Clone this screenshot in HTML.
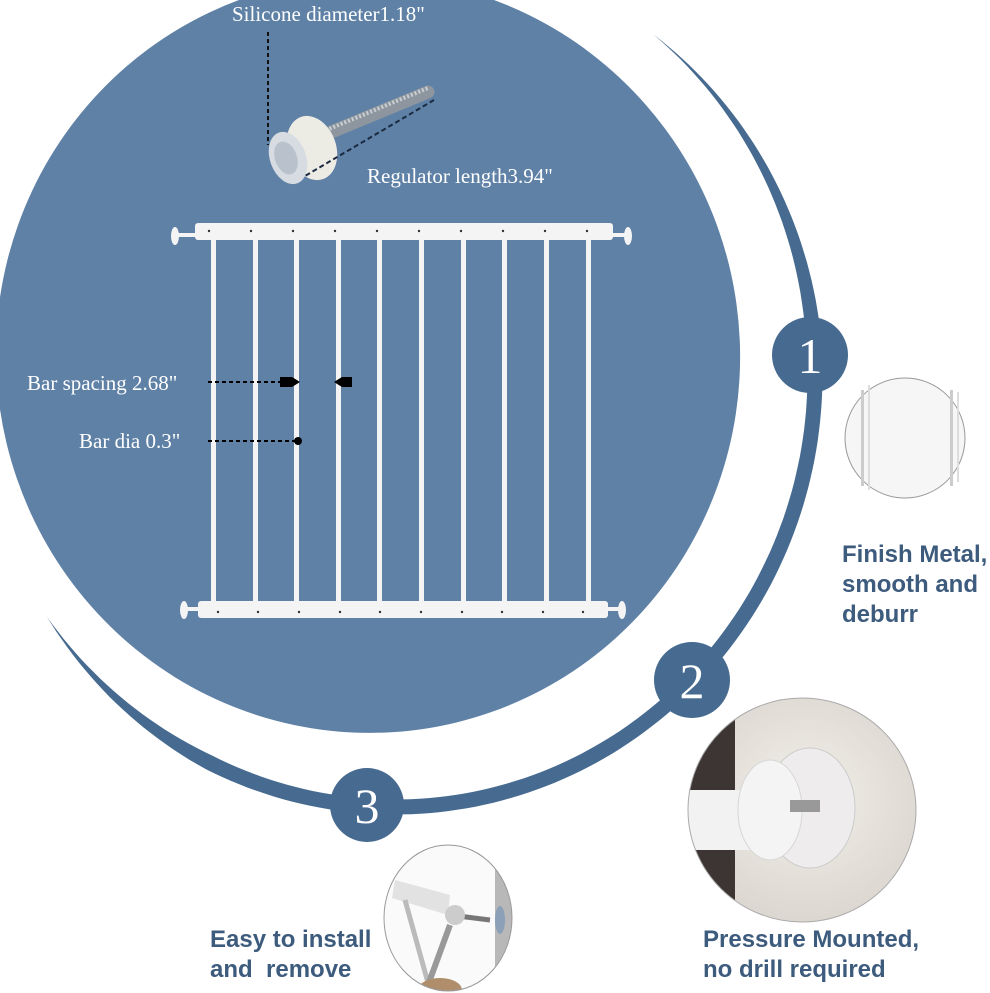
<!DOCTYPE html>
<html><head><meta charset="utf-8"><style>
html,body{margin:0;padding:0;background:#fff;}
svg{display:block}
.lbl{font-family:"Liberation Serif",serif;fill:#fff;font-size:21px}
.cap{font-family:"Liberation Sans",sans-serif;fill:#3d5b7d;font-size:24px;font-weight:bold}
.num{font-family:"Liberation Serif",serif;fill:#fff;font-size:50px;text-anchor:middle}
</style></head><body>
<svg id="s" width="990" height="993" viewBox="0 0 990 993" xmlns="http://www.w3.org/2000/svg">
<defs>
<radialGradient id="g2" cx="0.5" cy="0.45" r="0.6"><stop offset="0" stop-color="#f2efe9"/><stop offset="1" stop-color="#d8d3cc"/></radialGradient>
</defs>
<ellipse cx="368" cy="355" rx="372" ry="378" fill="#5f81a6" transform="rotate(-8 368 355)"/>
<path id="ring" fill="#466a90" d=""/>
<!-- bolt -->
<g>
<line x1="300" y1="145" x2="428" y2="92" stroke="#8d969e" stroke-width="13" stroke-linecap="round"/>
<line x1="300" y1="141" x2="428" y2="88" stroke="#c9ced2" stroke-width="4" stroke-dasharray="2,2"/>
<ellipse cx="312" cy="148" rx="24" ry="33" fill="#ecebe4" transform="rotate(-20 312 148)"/>
<ellipse cx="288" cy="158" rx="18" ry="27" fill="#d7dce2" transform="rotate(-20 288 158)"/>
<ellipse cx="286" cy="158" rx="11" ry="17" fill="#b9c2cc" transform="rotate(-20 286 158)"/>
</g>
<line x1="268" y1="32" x2="268" y2="145" stroke="#111" stroke-width="2" stroke-dasharray="4,3"/>
<line x1="434" y1="100" x2="305" y2="176" stroke="#1a2a40" stroke-width="2" stroke-dasharray="5,3"/>
<text class="lbl" x="232" y="21">Silicone diameter1.18"</text>
<text class="lbl" x="367" y="183">Regulator length3.94"</text>
<!-- gate -->
<g fill="#f4f4f4">
<rect x="211" y="238" width="5" height="366"/>
<rect x="253" y="238" width="5" height="366"/>
<rect x="294" y="238" width="5" height="366"/>
<rect x="336" y="238" width="5" height="366"/>
<rect x="377" y="238" width="5" height="366"/>
<rect x="419" y="238" width="5" height="366"/>
<rect x="461" y="238" width="5" height="366"/>
<rect x="502" y="238" width="5" height="366"/>
<rect x="544" y="238" width="5" height="366"/>
<rect x="586" y="238" width="5" height="366"/>
<rect x="195" y="223" width="418" height="17" rx="3"/>
<rect x="198" y="601" width="410" height="17" rx="3"/>
<rect x="172" y="233" width="24" height="4"/><ellipse cx="175" cy="236" rx="4" ry="9"/>
<rect x="612" y="233" width="18" height="4"/><ellipse cx="628" cy="236" rx="4" ry="9"/>
<rect x="182" y="607" width="18" height="4"/><ellipse cx="184" cy="610" rx="4" ry="9"/>
<rect x="605" y="607" width="18" height="4"/><ellipse cx="622" cy="610" rx="4" ry="9"/>
</g>
<g fill="#333">
<circle cx="209" cy="231" r="1.2"/><circle cx="251" cy="231" r="1.2"/><circle cx="293" cy="231" r="1.2"/><circle cx="335" cy="231" r="1.2"/><circle cx="377" cy="231" r="1.2"/><circle cx="419" cy="231" r="1.2"/><circle cx="461" cy="231" r="1.2"/><circle cx="503" cy="231" r="1.2"/><circle cx="545" cy="231" r="1.2"/><circle cx="587" cy="231" r="1.2"/>
<circle cx="218" cy="612" r="1.2"/><circle cx="258" cy="612" r="1.2"/><circle cx="299" cy="612" r="1.2"/><circle cx="340" cy="612" r="1.2"/><circle cx="380" cy="612" r="1.2"/><circle cx="421" cy="612" r="1.2"/><circle cx="462" cy="612" r="1.2"/><circle cx="502" cy="612" r="1.2"/><circle cx="543" cy="612" r="1.2"/><circle cx="583" cy="612" r="1.2"/>
</g>
<text class="lbl" x="27" y="390">Bar spacing 2.68"</text>
<text class="lbl" x="79" y="448">Bar dia 0.3"</text>
<line x1="208" y1="382" x2="282" y2="382" stroke="#000" stroke-width="2" stroke-dasharray="4,3"/>
<polygon points="280,377 292,377 300,382 292,387 280,387" fill="#000"/>
<polygon points="352,377 342,377 334,382 342,387 352,387" fill="#000"/>
<line x1="208" y1="441" x2="296" y2="441" stroke="#000" stroke-width="2" stroke-dasharray="4,3"/>
<circle cx="298" cy="441" r="4" fill="#000"/>
<!-- numbers -->
<circle cx="810" cy="355" r="38" fill="#466a90"/><text class="num" x="810" y="373">1</text>
<circle cx="692" cy="680" r="38" fill="#466a90"/><text class="num" x="692" y="698">2</text>
<circle cx="367" cy="805" r="37" fill="#466a90"/><text class="num" x="367" y="823">3</text>
<!-- photo 1 -->
<circle cx="905" cy="438" r="60" fill="#f6f6f7" stroke="#999" stroke-width="1"/>
<rect x="861" y="390" width="3" height="96" fill="#ccc"/><rect x="868" y="385" width="2" height="105" fill="#ddd"/>
<rect x="950" y="390" width="3" height="96" fill="#ccc"/><rect x="957" y="392" width="2" height="90" fill="#ddd"/>
<!-- photo 2 -->
<clipPath id="c2"><ellipse cx="802" cy="810" rx="114" ry="112"/></clipPath>
<g clip-path="url(#c2)">
<rect x="680" y="690" width="250" height="240" fill="url(#g2)"/>
<rect x="680" y="690" width="55" height="240" fill="#3c3534"/>
<rect x="680" y="790" width="100" height="60" fill="#f2f2f2"/>
<ellipse cx="810" cy="808" rx="45" ry="60" fill="#eeecec" stroke="#ccc"/>
<ellipse cx="770" cy="810" rx="32" ry="50" fill="#f4f4f4" stroke="#d6d6d6"/>
<rect x="790" y="800" width="30" height="12" fill="#999"/>
</g>
<ellipse cx="802" cy="810" rx="114" ry="112" fill="none" stroke="#aaa"/>
<!-- photo 3 -->
<clipPath id="c3"><ellipse cx="448" cy="918" rx="64" ry="73"/></clipPath>
<g clip-path="url(#c3)">
<rect x="380" y="840" width="140" height="160" fill="#fafafa"/>
<rect x="495" y="850" width="25" height="150" fill="#b8b8b8"/>
<polygon points="395,880 450,895 448,915 392,898" fill="#e2e2e2"/>
<line x1="405" y1="900" x2="430" y2="990" stroke="#bbb" stroke-width="5"/>
<line x1="450" y1="915" x2="490" y2="920" stroke="#777" stroke-width="5"/>
<circle cx="455" cy="915" r="10" fill="#ccc"/>
<ellipse cx="500" cy="920" rx="5" ry="14" fill="#8ca0b8"/>
<line x1="450" y1="925" x2="428" y2="985" stroke="#999" stroke-width="6"/>
<ellipse cx="440" cy="990" rx="22" ry="12" fill="#b08e6c"/>
</g>
<ellipse cx="448" cy="918" rx="64" ry="73" fill="none" stroke="#999"/>
<text class="cap" x="842" y="562">Finish Metal,</text>
<text class="cap" x="842" y="592">smooth and</text>
<text class="cap" x="842" y="622">deburr</text>
<text class="cap" x="703" y="947">Pressure Mounted,</text>
<text class="cap" x="703" y="977">no drill required</text>
<text class="cap" x="210" y="947">Easy to install</text>
<text class="cap" x="210" y="977" xml:space="preserve">and  remove</text>
</svg>
<script>
(function(){
var cx=395,cy=375,rx=420,ry=432,a1=146*Math.PI/180,a2=-52*Math.PI/180,N=160,o=[],i=[];
for(var k=0;k<=N;k++){var t=k/N,a=a1+(a2-a1)*t;
var w=15*Math.min(1,Math.sin(Math.PI*t)*2.2);
if(t>0.55)w=15*Math.min(1,Math.sin(Math.PI*t)*1.5);
var x=cx+rx*Math.cos(a),y=cy+ry*Math.sin(a);
var nx=Math.cos(a)/rx,ny=Math.sin(a)/ry,l=Math.sqrt(nx*nx+ny*ny);nx/=l;ny/=l;
o.push((x+nx*w/2).toFixed(1)+","+(y+ny*w/2).toFixed(1));
i.unshift((x-nx*w/2).toFixed(1)+","+(y-ny*w/2).toFixed(1));}
document.getElementById("ring").setAttribute("d","M"+o.join(" L")+" L"+i.join(" L")+"Z");
})();
</script>
</body></html>
